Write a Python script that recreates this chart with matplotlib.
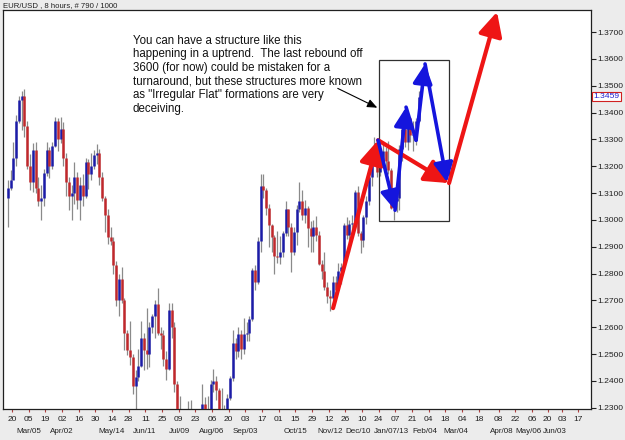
import matplotlib
matplotlib.use("Agg")
import matplotlib.pyplot as plt
import matplotlib.transforms as mtransforms
import numpy as np

# ---------------- data ----------------
first_open = 1.3080
closes = [1.3120, 1.3150,
          1.3230, 1.3370, 1.3447, 1.3460, 1.3350, 1.3200, 1.3140, 1.3260, 1.3120,
          1.3070, 1.3080, 1.3175, 1.3260, 1.3200, 1.3275, 1.3370, 1.3300, 1.3340,
          1.3230, 1.3140, 1.3090, 1.3100, 1.3160, 1.3075, 1.3130, 1.3090, 1.3215,
          1.3170, 1.3200, 1.3240, 1.3250, 1.3160, 1.3080, 1.3020, 1.2935, 1.2920,
          1.2830, 1.2700, 1.2780, 1.2700, 1.2580, 1.2515, 1.2490, 1.2380, 1.2415,
          1.2455, 1.2560, 1.2515, 1.2500, 1.2600, 1.2640, 1.2685, 1.2580, 1.2570,
          1.2480, 1.2445, 1.2665, 1.2600, 1.2390, 1.2290, 1.2255, 1.2195, 1.2245,
          1.2265, 1.2275, 1.2160, 1.2050, 1.2135, 1.2315, 1.2290, 1.2180, 1.2390,
          1.2400, 1.2365, 1.2285, 1.2290, 1.2270, 1.2335, 1.2410, 1.2540, 1.2510,
          1.2575, 1.2520, 1.2575, 1.2580, 1.2630, 1.2815, 1.2770, 1.2920, 1.3125,
          1.3110, 1.3045, 1.2980, 1.2935, 1.2865, 1.2860, 1.2880, 1.2950, 1.3040,
          1.2975, 1.2880, 1.2955, 1.3040, 1.3070, 1.3020, 1.3045, 1.2970, 1.2940,
          1.2975, 1.2945, 1.2835, 1.2810, 1.2750, 1.2715, 1.2710, 1.2770, 1.2740,
          1.2810, 1.2825, 1.2980, 1.2945, 1.2985, 1.2990, 1.3105, 1.2950, 1.2925,
          1.3010, 1.3070, 1.3160, 1.3240, 1.3235, 1.3180, 1.3220, 1.3255, 1.3220,
          1.3185, 1.3045, 1.3070, 1.3080, 1.3265, 1.3340, 1.3290, 1.3380, 1.3315,
          1.3320, 1.3370, 1.3459]
highs = [1.3150, 1.3185,
         1.3290, 1.3390, 1.3460, 1.3480, 1.3486, 1.3370, 1.3245, 1.3285, 1.3290,
         1.3160, 1.3130, 1.3190, 1.3290, 1.3270, 1.3290, 1.3385, 1.3380, 1.3385,
         1.3365, 1.3250, 1.3160, 1.3130, 1.3215, 1.3180, 1.3160, 1.3170, 1.3230,
         1.3225, 1.3250, 1.3260, 1.3283, 1.3265, 1.3180, 1.3090, 1.3040, 1.2975,
         1.2935, 1.2845, 1.2800, 1.2825, 1.2710, 1.2590, 1.2625, 1.2500, 1.2440,
         1.2520, 1.2625, 1.2580, 1.2670, 1.2620, 1.2650, 1.2700, 1.2745, 1.2600,
         1.2590, 1.2510, 1.2690, 1.2690, 1.2620, 1.2400, 1.2345, 1.2270, 1.2255,
         1.2325, 1.2330, 1.2285, 1.2170, 1.2150, 1.2390, 1.2340, 1.2345, 1.2405,
         1.2443, 1.2420, 1.2375, 1.2375, 1.2310, 1.2350, 1.2420, 1.2590, 1.2560,
         1.2600, 1.2590, 1.2635, 1.2620, 1.2640, 1.2820, 1.2830, 1.2935, 1.3170,
         1.3170, 1.3120, 1.3060, 1.2985, 1.2945, 1.2960, 1.2940, 1.2960, 1.3070,
         1.3040, 1.2990, 1.2975, 1.3055, 1.3140, 1.3110, 1.3075, 1.3050, 1.2995,
         1.3000, 1.3015, 1.2960, 1.2850, 1.2880, 1.2770, 1.2740, 1.2790, 1.2790,
         1.2840, 1.2840, 1.2990, 1.3010, 1.3000, 1.3020, 1.3110, 1.3125, 1.2960,
         1.3020, 1.3090, 1.3175, 1.3250, 1.3310, 1.3250, 1.3240, 1.3285, 1.3270,
         1.3295, 1.3195, 1.3090, 1.3140, 1.3280, 1.3365, 1.3400, 1.3390, 1.3385,
         1.3370, 1.3380, 1.3480]
lows = [1.2973, 1.3110,
        1.3180, 1.3200, 1.3360, 1.3335, 1.3310, 1.3190, 1.3110, 1.3105, 1.3100,
        1.3050, 1.3000, 1.3050, 1.3165, 1.3155, 1.3190, 1.3270, 1.3255, 1.3285,
        1.3200, 1.3090, 1.3035, 1.3000, 1.3060, 1.3040, 1.3000, 1.3050, 1.3080,
        1.3115, 1.3150, 1.3190, 1.3210, 1.3130, 1.3070, 1.2955, 1.2910, 1.2905,
        1.2800, 1.2680, 1.2640, 1.2690, 1.2515, 1.2495, 1.2460, 1.2350, 1.2288,
        1.2400, 1.2450, 1.2440, 1.2445, 1.2450, 1.2580, 1.2560, 1.2570, 1.2520,
        1.2455, 1.2405, 1.2440, 1.2560, 1.2360, 1.2285, 1.2240, 1.2165, 1.2170,
        1.2200, 1.2240, 1.2145, 1.2040, 1.2040, 1.2130, 1.2240, 1.2135, 1.2170,
        1.2360, 1.2330, 1.2245, 1.2270, 1.2240, 1.2260, 1.2330, 1.2400, 1.2480,
        1.2490, 1.2480, 1.2500, 1.2550, 1.2550, 1.2625, 1.2740, 1.2760, 1.2880,
        1.3080, 1.3020, 1.2900, 1.2880, 1.2800, 1.2840, 1.2835, 1.2860, 1.2940,
        1.2940, 1.2805, 1.2870, 1.2905, 1.3030, 1.3000, 1.2990, 1.2900, 1.2880,
        1.2880, 1.2920, 1.2830, 1.2780, 1.2740, 1.2690, 1.2660, 1.2700, 1.2715,
        1.2740, 1.2760, 1.2820, 1.2930, 1.2880, 1.2960, 1.2985, 1.2940, 1.2875,
        1.2900, 1.2985, 1.3055, 1.3125, 1.3210, 1.3160, 1.3165, 1.3195, 1.3185,
        1.3170, 1.3040, 1.2998, 1.3030, 1.3035, 1.3220, 1.3270, 1.3260, 1.3290,
        1.3255, 1.3280, 1.3365]
start_week = -0.5          # position of first bar (in weeks from 20 Feb 2012)
bars_per_week = 3

tick_pos = [0, 2, 4, 6, 8, 10, 12, 14, 16, 18, 20, 22, 24, 26, 28, 30, 32, 34,
            36, 38, 40, 42, 44, 46, 48, 50, 52, 54, 56, 58.4, 60.4, 62.4, 64.3,
            66.0, 67.9]
tick_lab = ["20", "05", "19", "02", "16", "30", "14", "28", "11", "25", "09",
            "23", "06", "20", "03", "17", "01", "15", "29", "12", "26", "10",
            "24", "07", "21", "04", "18", "04", "18", "08", "22", "06", "20",
            "03", "17"]
month_pos = [2.04, 6.0, 12.0, 15.97, 20.05, 24.0, 27.97, 33.97, 38.18, 41.55,
             45.5, 49.6, 53.3, 58.82, 61.94, 65.19]
month_lab = ["Mar/05", "Apr/02", "May/14", "Jun/11", "Jul/09", "Aug/06",
             "Sep/03", "Oct/15", "Nov/12", "Dec/10", "Jan/07/13", "Feb/04",
             "Mar/04", "Apr/08", "May/06", "Jun/03"]
y_ticks = [1.23, 1.24, 1.25, 1.26, 1.27, 1.28, 1.29, 1.30, 1.31, 1.32, 1.33,
           1.34, 1.35, 1.36, 1.37]
last_price = 1.3459

# projected wave drawing (week, price)
red_path_x = [38.54, 43.94, 52.46, 58.22]
red_path_y = [1.2671, 1.3297, 1.3137, 1.3775]
blue_path_x = [43.94, 45.98, 47.30, 48.50, 49.58, 52.22]
blue_path_y = [1.3297, 1.3036, 1.3420, 1.3297, 1.3581, 1.3140]
blue_heads = [True, True, False, True, True]
box_x = [44.06, 52.46]
box_y = [1.2995, 1.3596]
note_arrow = [(39.1, 1.3490), (43.85, 1.3418)]
note_pos = (14.5, 1.3690)

note = ("You can have a structure like this\n"
        "happening in a uptrend.  The last rebound off\n"
        "3600 (for now) could be mistaken for a\n"
        "turnaround, but these structures more known\n"
        "as \"Irregular Flat\" formations are very\n"
        "deceiving.")

# ---------------- figure ----------------
plt.rcParams['font.family'] = ['Liberation Sans', 'DejaVu Sans']
W, H = 625, 440
fig = plt.figure(figsize=(W / 100, H / 100), dpi=100, facecolor='#ececec')
L, R, T, B = 3, 591, 10, 409
ax = fig.add_axes([L / W, 1 - B / H, (R - L) / W, (B - T) / H])
ax.set_facecolor('white')

ax.set_xlim(-1.08, 69.5)
ax.set_ylim(1.22952, 1.37821)

opens = [first_open] + closes[:-1]
xs = start_week + np.arange(len(closes)) / bars_per_week
for x, o, h, l, c in zip(xs, opens, highs, lows, closes):
    ax.vlines(x, l, h, color='#8a8a8a', lw=0.9, zorder=2)
    col = '#1c1ca8' if c >= o else '#c0282c'
    lo, hi = min(o, c), max(o, c)
    if hi - lo < 0.0004:
        hi = lo + 0.0004
    ax.vlines(x, lo, hi, color=col, lw=1.8, zorder=3)

# box
ax.add_patch(plt.Rectangle((box_x[0], box_y[0]), box_x[1] - box_x[0],
                           box_y[1] - box_y[0], fill=False, ec='#303030',
                           lw=0.9, zorder=4))

def arrow(x0, y0, x1, y1, color, lw, head=True, hs=13):
    if head:
        ax.annotate('', xy=(x1, y1), xytext=(x0, y0),
                    arrowprops=dict(arrowstyle='-|>,head_length=0.9,head_width=0.45',
                                    color=color, lw=lw, shrinkA=0, shrinkB=0,
                                    mutation_scale=hs), zorder=6)
    else:
        ax.plot([x0, x1], [y0, y1], color=color, lw=lw, solid_capstyle='round',
                zorder=6)

for i in range(len(red_path_x) - 1):
    arrow(red_path_x[i], red_path_y[i], red_path_x[i + 1], red_path_y[i + 1],
          '#ee1515', 3.0, hs=16)
for i in range(len(blue_path_x) - 1):
    arrow(blue_path_x[i], blue_path_y[i], blue_path_x[i + 1], blue_path_y[i + 1],
          '#1515dd', 2.6, head=blue_heads[i], hs=13)

# note and pointer
ax.text(note_pos[0], note_pos[1], note, fontsize=8.3, va='top', ha='left',
        color='#111111', linespacing=1.18, zorder=7)
ax.annotate('', xy=note_arrow[1], xytext=note_arrow[0],
            arrowprops=dict(arrowstyle='-|>,head_length=0.6,head_width=0.25',
                            color='black', lw=0.8, shrinkA=0, shrinkB=0,
                            mutation_scale=10), zorder=7)

# axes styling
for s in ax.spines.values():
    s.set_color('#202020')
    s.set_linewidth(0.9)
ax.yaxis.tick_right()
ax.set_yticks(y_ticks)
ax.set_yticklabels([f"{v:.4f}" for v in y_ticks])
ax.tick_params(axis='y', direction='out', length=3.5, width=0.8, pad=1,
               labelsize=6.1, colors='#202020')
ax.set_xticks(tick_pos)
ax.set_xticklabels(tick_lab)
ax.tick_params(axis='x', direction='out', length=2.5, width=0.8, pad=2.5,
               labelsize=6.0, color='#b04040', labelcolor='#202020')

trans = mtransforms.blended_transform_factory(ax.transData, ax.transAxes)
for p, lab in zip(month_pos, month_lab):
    ax.text(p, -0.048, lab, transform=trans, ha='center', va='top',
            fontsize=5.8, color='#202020', clip_on=False)

# last price tag
trans_y = mtransforms.blended_transform_factory(ax.transAxes, ax.transData)
ax.text(1.0045, last_price, f"{last_price:.4f}", transform=trans_y, ha='left',
        va='center', fontsize=6.1, color='#2020d0', clip_on=False,
        bbox=dict(boxstyle='square,pad=0.15', fc='white', ec='#d02020', lw=0.8),
        zorder=8)

fig.text(3 / W, 1 - 6 / H, "EUR/USD , 8 hours, # 790 / 1000", fontsize=5.6,
         color='#202020', ha='left', va='center')

fig.savefig('out.png', dpi=100, facecolor=fig.get_facecolor())
